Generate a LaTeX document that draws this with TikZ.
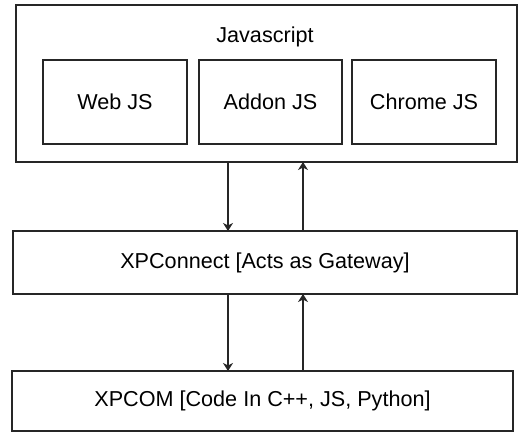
\documentclass[tikz,border=0pt]{standalone}
\usepackage{fontspec}
\setmainfont{Liberation Sans}
\usetikzlibrary{arrows.meta}
\begin{document}
\begin{tikzpicture}[x=1pt,y=-1pt,
  box/.style={draw=black!85,line width=1.2pt,inner sep=0pt,outer sep=0pt,rectangle,font=\fontsize{21.6}{26}\selectfont},
  lbl/.style={inner sep=0pt,font=\fontsize{21.6}{26}\selectfont},
  arr/.style={draw=black!85,line width=1.2pt,-{Stealth[length=8pt,width=10pt,inset=2.5pt]}}]
\useasboundingbox (0,0) rectangle (518,432);
\node[box,minimum width=501,minimum height=157] (js) at (266.5,83.5) {};
\node[lbl] (jsl) at (265,37) {Javascript};
\node[box,minimum width=144,minimum height=84] (web) at (115,102) {Web JS};
\node[box,minimum width=143,minimum height=84] (addon) at (270.5,102) {Addon JS};
\node[box,minimum width=144,minimum height=84] (chrome) at (424,102) {Chrome JS};
\node[box,minimum width=504,minimum height=63] (xpc) at (265,262.5) {XPConnect [Acts as Gateway]};
\node[box,minimum width=501,minimum height=60] (xpcom) at (262.5,401) {XPCOM [Code In C++, JS, Python]};
\coordinate (L) at (228,0);
\coordinate (R) at (303,0);
\draw[arr] (js.south -| L) -- (xpc.north -| L);
\draw[arr] (xpc.north -| R) -- (js.south -| R);
\draw[arr] (xpc.south -| L) -- (xpcom.north -| L);
\draw[arr] (xpcom.north -| R) -- (xpc.south -| R);
\end{tikzpicture}
\end{document}
